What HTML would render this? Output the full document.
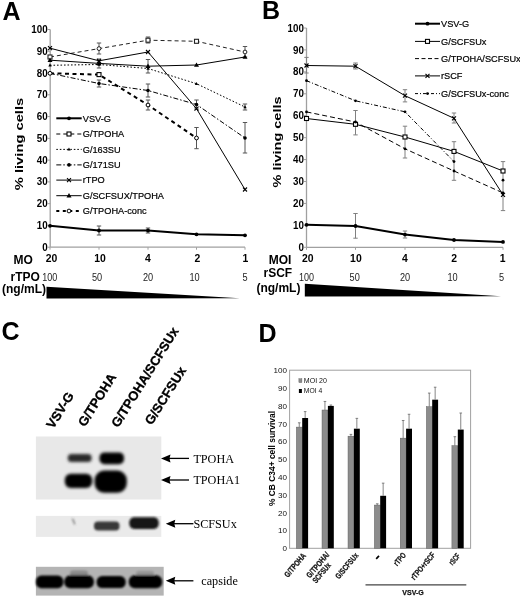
<!DOCTYPE html>
<html><head><meta charset="utf-8"><style>
html,body{margin:0;padding:0;background:#fff;}
body{width:520px;height:597px;overflow:hidden;}
svg{display:block;filter:blur(0.35px);}
</style></head><body>
<svg width="520" height="597" viewBox="0 0 520 597">
<rect width="520" height="597" fill="#fff"/>
<g font-family='"Liberation Sans", sans-serif' fill="#000">
<text x="2.5" y="19.6" font-size="25" font-weight="bold">A</text>
<text x="262" y="18.7" font-size="25" font-weight="bold">B</text>
<text x="1.5" y="340" font-size="25" font-weight="bold">C</text>
<text x="258.5" y="342.3" font-size="25" font-weight="bold">D</text>
<line x1="50.2" y1="29.49999999999997" x2="50.2" y2="247.2" stroke="#a0a0a0" stroke-width="1.3"/>
<line x1="50.2" y1="247.2" x2="245" y2="247.2" stroke="#a0a0a0" stroke-width="1.3"/>
<line x1="47.7" y1="247.2" x2="50.2" y2="247.2" stroke="#a0a0a0" stroke-width="1"/>
<text x="42.15" y="250.79999999999998" font-size="10" font-weight="bold" textLength="5.45" lengthAdjust="spacingAndGlyphs">0</text>
<line x1="47.7" y1="225.42999999999998" x2="50.2" y2="225.42999999999998" stroke="#a0a0a0" stroke-width="1"/>
<text x="36.7" y="229.02999999999997" font-size="10" font-weight="bold" textLength="10.9" lengthAdjust="spacingAndGlyphs">10</text>
<line x1="47.7" y1="203.66" x2="50.2" y2="203.66" stroke="#a0a0a0" stroke-width="1"/>
<text x="36.7" y="207.26" font-size="10" font-weight="bold" textLength="10.9" lengthAdjust="spacingAndGlyphs">20</text>
<line x1="47.7" y1="181.89" x2="50.2" y2="181.89" stroke="#a0a0a0" stroke-width="1"/>
<text x="36.7" y="185.48999999999998" font-size="10" font-weight="bold" textLength="10.9" lengthAdjust="spacingAndGlyphs">30</text>
<line x1="47.7" y1="160.12" x2="50.2" y2="160.12" stroke="#a0a0a0" stroke-width="1"/>
<text x="36.7" y="163.72" font-size="10" font-weight="bold" textLength="10.9" lengthAdjust="spacingAndGlyphs">40</text>
<line x1="47.7" y1="138.34999999999997" x2="50.2" y2="138.34999999999997" stroke="#a0a0a0" stroke-width="1"/>
<text x="36.7" y="141.94999999999996" font-size="10" font-weight="bold" textLength="10.9" lengthAdjust="spacingAndGlyphs">50</text>
<line x1="47.7" y1="116.57999999999998" x2="50.2" y2="116.57999999999998" stroke="#a0a0a0" stroke-width="1"/>
<text x="36.7" y="120.17999999999998" font-size="10" font-weight="bold" textLength="10.9" lengthAdjust="spacingAndGlyphs">60</text>
<line x1="47.7" y1="94.80999999999997" x2="50.2" y2="94.80999999999997" stroke="#a0a0a0" stroke-width="1"/>
<text x="36.7" y="98.40999999999997" font-size="10" font-weight="bold" textLength="10.9" lengthAdjust="spacingAndGlyphs">70</text>
<line x1="47.7" y1="73.03999999999999" x2="50.2" y2="73.03999999999999" stroke="#a0a0a0" stroke-width="1"/>
<text x="36.7" y="76.63999999999999" font-size="10" font-weight="bold" textLength="10.9" lengthAdjust="spacingAndGlyphs">80</text>
<line x1="47.7" y1="51.26999999999998" x2="50.2" y2="51.26999999999998" stroke="#a0a0a0" stroke-width="1"/>
<text x="36.7" y="54.86999999999998" font-size="10" font-weight="bold" textLength="10.9" lengthAdjust="spacingAndGlyphs">90</text>
<line x1="47.7" y1="29.49999999999997" x2="50.2" y2="29.49999999999997" stroke="#a0a0a0" stroke-width="1"/>
<text x="31.25" y="33.09999999999997" font-size="10" font-weight="bold" textLength="16.35" lengthAdjust="spacingAndGlyphs">100</text>
<line x1="50" y1="247.2" x2="50" y2="249.7" stroke="#a0a0a0" stroke-width="1"/>
<line x1="99" y1="247.2" x2="99" y2="249.7" stroke="#a0a0a0" stroke-width="1"/>
<line x1="148" y1="247.2" x2="148" y2="249.7" stroke="#a0a0a0" stroke-width="1"/>
<line x1="196.5" y1="247.2" x2="196.5" y2="249.7" stroke="#a0a0a0" stroke-width="1"/>
<line x1="245" y1="247.2" x2="245" y2="249.7" stroke="#a0a0a0" stroke-width="1"/>
<text transform="translate(22.5,144) rotate(-90)" text-anchor="middle" font-size="11.6" font-weight="bold" textLength="92.5" lengthAdjust="spacingAndGlyphs">% living cells</text>
<text transform="translate(281,142) rotate(-90)" text-anchor="middle" font-size="11.6" font-weight="bold" textLength="91" lengthAdjust="spacingAndGlyphs">% living cells</text>
<path d="M99,43V54M96.8,43H101.2M96.8,54H101.2" stroke="#555" stroke-width="1" fill="none"/><path d="M148,37V43M145.8,37H150.2M145.8,43H150.2" stroke="#555" stroke-width="1" fill="none"/><path d="M245,46.5V57M242.8,46.5H247.2M242.8,57H247.2" stroke="#555" stroke-width="1" fill="none"/><path d="M50,57.0L99,48.6L148,40.2L196.5,41.3L245,52.0" fill="none" stroke="#222" stroke-width="1" stroke-dasharray="4,3"/><rect x="48" y="55.0" width="4" height="4" fill="#fff" stroke="#222" stroke-width="1.1"/><circle cx="99" cy="48.6" r="1.9" fill="#fff" stroke="#222" stroke-width="1"/><rect x="146" y="38.2" width="4" height="4" fill="#fff" stroke="#222" stroke-width="1.1"/><rect x="194.5" y="39.3" width="4" height="4" fill="#fff" stroke="#222" stroke-width="1.1"/><circle cx="245" cy="52.0" r="1.9" fill="#fff" stroke="#222" stroke-width="1"/>
<path d="M99,59V68M96.8,59H101.2M96.8,68H101.2" stroke="#555" stroke-width="1" fill="none"/><path d="M148,59.5V73M145.8,59.5H150.2M145.8,73H150.2" stroke="#555" stroke-width="1" fill="none"/><path d="M50,60.2L99,63.4L148,66.2L196.5,65.0L245,57.0" fill="none" stroke="#000" stroke-width="1"/><path d="M50,57.6L52.5,62.0L47.5,62.0Z" fill="#000"/><path d="M99,60.8L101.5,65.2L96.5,65.2Z" fill="#000"/><path d="M148,63.6L150.5,68.0L145.5,68.0Z" fill="#000"/><path d="M196.5,62.4L199.0,66.8L194.0,66.8Z" fill="#000"/><path d="M245,54.4L247.5,58.8L242.5,58.8Z" fill="#000"/>
<path d="M245,104V110M242.8,104H247.2M242.8,110H247.2" stroke="#555" stroke-width="1" fill="none"/><path d="M50,65.3L99,64.5L148,68.5L196.5,83.7L245,107.0" fill="none" stroke="#000" stroke-width="1" stroke-dasharray="1.6,1.9"/><path d="M50,63.5L51.7,66.5L48.3,66.5Z" fill="#000"/><path d="M99,62.7L100.7,65.7L97.3,65.7Z" fill="#000"/><path d="M148,66.7L149.7,69.7L146.3,69.7Z" fill="#000"/><path d="M196.5,81.9L198.2,84.9L194.8,84.9Z" fill="#000"/><path d="M245,105.2L246.7,108.2L243.3,108.2Z" fill="#000"/>
<path d="M99,80V87M96.8,80H101.2M96.8,87H101.2" stroke="#555" stroke-width="1" fill="none"/><path d="M148,84V97M145.8,84H150.2M145.8,97H150.2" stroke="#555" stroke-width="1" fill="none"/><path d="M196.5,100V109M194.3,100H198.7M194.3,109H198.7" stroke="#555" stroke-width="1" fill="none"/><path d="M245,122.5V153M242.8,122.5H247.2M242.8,153H247.2" stroke="#555" stroke-width="1" fill="none"/><path d="M50,73.3L99,83.5L148,90.5L196.5,104.5L245,138.0" fill="none" stroke="#000" stroke-width="1" stroke-dasharray="5,2,1.5,2"/><circle cx="50" cy="73.3" r="1.8" fill="#000"/><circle cx="99" cy="83.5" r="1.8" fill="#000"/><circle cx="148" cy="90.5" r="1.8" fill="#000"/><circle cx="196.5" cy="104.5" r="1.8" fill="#000"/><circle cx="245" cy="138.0" r="1.8" fill="#000"/>
<path d="M50,48.2L99,60.8L148,52.0L196.5,108.7L245,189.5" fill="none" stroke="#000" stroke-width="1"/><path d="M48,46.2L52,50.2M52,46.2L48,50.2" stroke="#000" stroke-width="1.1"/><path d="M97,58.8L101,62.8M101,58.8L97,62.8" stroke="#000" stroke-width="1.1"/><path d="M146,50.0L150,54.0M150,50.0L146,54.0" stroke="#000" stroke-width="1.1"/><path d="M194.5,106.7L198.5,110.7M198.5,106.7L194.5,110.7" stroke="#000" stroke-width="1.1"/><path d="M243,187.5L247,191.5M247,187.5L243,191.5" stroke="#000" stroke-width="1.1"/>
<path d="M148,100V110M145.8,100H150.2M145.8,110H150.2" stroke="#555" stroke-width="1" fill="none"/><path d="M196.5,127.5V148.7M194.3,127.5H198.7M194.3,148.7H198.7" stroke="#555" stroke-width="1" fill="none"/><path d="M50,73.3L99,74.6L148,105.0L196.5,138.0" fill="none" stroke="#000" stroke-width="2" stroke-dasharray="4,3.5"/><circle cx="50" cy="73.3" r="1.9" fill="#fff" stroke="#000" stroke-width="1"/><rect x="97" y="72.6" width="4" height="4" fill="#fff" stroke="#000" stroke-width="1.1"/><circle cx="148" cy="105.0" r="1.9" fill="#fff" stroke="#000" stroke-width="1"/><circle cx="196.5" cy="138.0" r="1.9" fill="#fff" stroke="#000" stroke-width="1"/>
<path d="M99,226V235M96.8,226H101.2M96.8,235H101.2" stroke="#555" stroke-width="1" fill="none"/><path d="M148,228V233M145.8,228H150.2M145.8,233H150.2" stroke="#555" stroke-width="1" fill="none"/><path d="M50,225.8L99,230.5L148,230.5L196.5,234.3L245,235.3" fill="none" stroke="#000" stroke-width="2"/><circle cx="50" cy="225.8" r="1.9" fill="#000"/><circle cx="99" cy="230.5" r="1.9" fill="#000"/><circle cx="148" cy="230.5" r="1.9" fill="#000"/><circle cx="196.5" cy="234.3" r="1.9" fill="#000"/><circle cx="245" cy="235.3" r="1.9" fill="#000"/>
<line x1="56.3" y1="118.3" x2="81.7" y2="118.3" stroke="#000" stroke-width="2"/>
<circle cx="69" cy="118.3" r="1.9" fill="#000"/>
<text x="82.8" y="121.6" font-size="9.2" stroke="#000" stroke-width="0.2">VSV-G</text>
<line x1="56.3" y1="134.0" x2="81.7" y2="134.0" stroke="#000" stroke-width="1" stroke-dasharray="4,3"/>
<rect x="67" y="132.0" width="4" height="4" fill="#fff" stroke="#000" stroke-width="1.1"/>
<text x="82.8" y="137.3" font-size="9.2" stroke="#000" stroke-width="0.2">G/TPOHA</text>
<line x1="56.3" y1="149.4" x2="81.7" y2="149.4" stroke="#000" stroke-width="1" stroke-dasharray="1.6,1.9"/>
<path d="M69,147.6L70.7,150.6L67.3,150.6Z" fill="#000"/>
<text x="82.8" y="152.70000000000002" font-size="9.2" stroke="#000" stroke-width="0.2">G/163SU</text>
<line x1="56.3" y1="164.9" x2="81.7" y2="164.9" stroke="#000" stroke-width="1" stroke-dasharray="5,2,1.5,2"/>
<circle cx="69" cy="164.9" r="1.8" fill="#000"/>
<text x="82.8" y="168.20000000000002" font-size="9.2" stroke="#000" stroke-width="0.2">G/171SU</text>
<line x1="56.3" y1="180.1" x2="81.7" y2="180.1" stroke="#000" stroke-width="1"/>
<path d="M67,178.1L71,182.1M71,178.1L67,182.1" stroke="#000" stroke-width="1.1"/>
<text x="82.8" y="183.4" font-size="9.2" stroke="#000" stroke-width="0.2">rTPO</text>
<line x1="56.3" y1="195.7" x2="81.7" y2="195.7" stroke="#000" stroke-width="1"/>
<path d="M69,193.1L71.5,197.5L66.5,197.5Z" fill="#000"/>
<text x="82.8" y="199.0" font-size="9.2" stroke="#000" stroke-width="0.2">G/SCFSUX/TPOHA</text>
<line x1="56.3" y1="211.0" x2="81.7" y2="211.0" stroke="#000" stroke-width="2" stroke-dasharray="3,3.5"/>
<circle cx="69" cy="211.0" r="1.9" fill="#fff" stroke="#000" stroke-width="1"/>
<text x="82.8" y="214.3" font-size="9.2" stroke="#000" stroke-width="0.2">G/TPOHA-conc</text>
<text x="13.5" y="264.3" font-size="12" font-weight="bold">MO</text>
<text x="51.5" y="262.2" text-anchor="middle" font-size="10.4" font-weight="bold">20</text>
<text x="100.1" y="262.2" text-anchor="middle" font-size="10.4" font-weight="bold">10</text>
<text x="148" y="262.2" text-anchor="middle" font-size="10.4" font-weight="bold">4</text>
<text x="197.3" y="262.2" text-anchor="middle" font-size="10.4" font-weight="bold">2</text>
<text x="245.4" y="262.2" text-anchor="middle" font-size="10.4" font-weight="bold">1</text>
<text x="10.5" y="280.8" font-size="12" font-weight="bold">rTPO</text>
<text x="42.2" y="280.8" font-size="10" fill="#222" textLength="15" lengthAdjust="spacingAndGlyphs">100</text>
<text x="91.9" y="280.8" font-size="10" fill="#222" textLength="10.2" lengthAdjust="spacingAndGlyphs">50</text>
<text x="142.9" y="280.8" font-size="10" fill="#222" textLength="10.2" lengthAdjust="spacingAndGlyphs">20</text>
<text x="189.4" y="280.8" font-size="10" fill="#222" textLength="10.2" lengthAdjust="spacingAndGlyphs">10</text>
<text x="242.45" y="280.8" font-size="10" fill="#222" textLength="5.1" lengthAdjust="spacingAndGlyphs">5</text>
<text x="2" y="293.3" font-size="12" font-weight="bold">(ng/mL)</text>
<path d="M46.5,286.7L239.7,298.2L46.5,298.5Z" fill="#000"/>
<line x1="306.5" y1="28.0" x2="306.5" y2="247.3" stroke="#a0a0a0" stroke-width="1.3"/>
<line x1="306.5" y1="247.3" x2="503" y2="247.3" stroke="#a0a0a0" stroke-width="1.3"/>
<line x1="304.0" y1="247.3" x2="306.5" y2="247.3" stroke="#a0a0a0" stroke-width="1"/>
<text x="298.45" y="250.9" font-size="10" font-weight="bold" textLength="5.45" lengthAdjust="spacingAndGlyphs">0</text>
<line x1="304.0" y1="225.37" x2="306.5" y2="225.37" stroke="#a0a0a0" stroke-width="1"/>
<text x="293.0" y="228.97" font-size="10" font-weight="bold" textLength="10.9" lengthAdjust="spacingAndGlyphs">10</text>
<line x1="304.0" y1="203.44" x2="306.5" y2="203.44" stroke="#a0a0a0" stroke-width="1"/>
<text x="293.0" y="207.04" font-size="10" font-weight="bold" textLength="10.9" lengthAdjust="spacingAndGlyphs">20</text>
<line x1="304.0" y1="181.51" x2="306.5" y2="181.51" stroke="#a0a0a0" stroke-width="1"/>
<text x="293.0" y="185.10999999999999" font-size="10" font-weight="bold" textLength="10.9" lengthAdjust="spacingAndGlyphs">30</text>
<line x1="304.0" y1="159.58" x2="306.5" y2="159.58" stroke="#a0a0a0" stroke-width="1"/>
<text x="293.0" y="163.18" font-size="10" font-weight="bold" textLength="10.9" lengthAdjust="spacingAndGlyphs">40</text>
<line x1="304.0" y1="137.65" x2="306.5" y2="137.65" stroke="#a0a0a0" stroke-width="1"/>
<text x="293.0" y="141.25" font-size="10" font-weight="bold" textLength="10.9" lengthAdjust="spacingAndGlyphs">50</text>
<line x1="304.0" y1="115.72" x2="306.5" y2="115.72" stroke="#a0a0a0" stroke-width="1"/>
<text x="293.0" y="119.32" font-size="10" font-weight="bold" textLength="10.9" lengthAdjust="spacingAndGlyphs">60</text>
<line x1="304.0" y1="93.79000000000002" x2="306.5" y2="93.79000000000002" stroke="#a0a0a0" stroke-width="1"/>
<text x="293.0" y="97.39000000000001" font-size="10" font-weight="bold" textLength="10.9" lengthAdjust="spacingAndGlyphs">70</text>
<line x1="304.0" y1="71.86000000000001" x2="306.5" y2="71.86000000000001" stroke="#a0a0a0" stroke-width="1"/>
<text x="293.0" y="75.46000000000001" font-size="10" font-weight="bold" textLength="10.9" lengthAdjust="spacingAndGlyphs">80</text>
<line x1="304.0" y1="49.93000000000001" x2="306.5" y2="49.93000000000001" stroke="#a0a0a0" stroke-width="1"/>
<text x="293.0" y="53.53000000000001" font-size="10" font-weight="bold" textLength="10.9" lengthAdjust="spacingAndGlyphs">90</text>
<line x1="304.0" y1="28.0" x2="306.5" y2="28.0" stroke="#a0a0a0" stroke-width="1"/>
<text x="287.54999999999995" y="31.6" font-size="10" font-weight="bold" textLength="16.35" lengthAdjust="spacingAndGlyphs">100</text>
<line x1="306.5" y1="247.3" x2="306.5" y2="249.8" stroke="#a0a0a0" stroke-width="1"/>
<line x1="355.5" y1="247.3" x2="355.5" y2="249.8" stroke="#a0a0a0" stroke-width="1"/>
<line x1="405" y1="247.3" x2="405" y2="249.8" stroke="#a0a0a0" stroke-width="1"/>
<line x1="454" y1="247.3" x2="454" y2="249.8" stroke="#a0a0a0" stroke-width="1"/>
<line x1="503" y1="247.3" x2="503" y2="249.8" stroke="#a0a0a0" stroke-width="1"/>
<path d="M355.5,110.5V134.9M353.3,110.5H357.7M353.3,134.9H357.7" stroke="#808080" stroke-width="1" fill="none"/><path d="M405,126.2V158M402.8,126.2H407.2M402.8,158H407.2" stroke="#808080" stroke-width="1" fill="none"/><path d="M454,141.7V180.3M451.8,141.7H456.2M451.8,180.3H456.2" stroke="#808080" stroke-width="1" fill="none"/><path d="M503,161.6V210.6M500.8,161.6H505.2M500.8,210.6H505.2" stroke="#808080" stroke-width="1" fill="none"/><path d="M306.5,118.5L355.5,124.3L405,137.0L454,151.4L503,171.0" fill="none" stroke="#000" stroke-width="1"/><rect x="304.5" y="116.5" width="4" height="4" fill="#fff" stroke="#000" stroke-width="1.1"/><rect x="353.5" y="122.3" width="4" height="4" fill="#fff" stroke="#000" stroke-width="1.1"/><rect x="403" y="135.0" width="4" height="4" fill="#fff" stroke="#000" stroke-width="1.1"/><rect x="452" y="149.4" width="4" height="4" fill="#fff" stroke="#000" stroke-width="1.1"/><rect x="501" y="169.0" width="4" height="4" fill="#fff" stroke="#000" stroke-width="1.1"/>
<path d="M306.5,111.9L355.5,122.0L405,148.8L454,171.0L503,192.9" fill="none" stroke="#000" stroke-width="1" stroke-dasharray="5,3"/><circle cx="306.5" cy="111.9" r="1.4" fill="#000"/><circle cx="355.5" cy="122.0" r="1.4" fill="#000"/><circle cx="405" cy="148.8" r="1.4" fill="#000"/><circle cx="454" cy="171.0" r="1.4" fill="#000"/><circle cx="503" cy="192.9" r="1.4" fill="#000"/>
<path d="M306.5,57.4V73M304.3,57.4H308.7M304.3,73H308.7" stroke="#808080" stroke-width="1" fill="none"/><path d="M355.5,63V69M353.3,63H357.7M353.3,69H357.7" stroke="#808080" stroke-width="1" fill="none"/><path d="M405,89.7V101.9M402.8,89.7H407.2M402.8,101.9H407.2" stroke="#808080" stroke-width="1" fill="none"/><path d="M454,113V123M451.8,113H456.2M451.8,123H456.2" stroke="#808080" stroke-width="1" fill="none"/><path d="M306.5,65.5L355.5,66.2L405,95.7L454,118.3L503,194.8" fill="none" stroke="#000" stroke-width="1"/><path d="M304.5,63.5L308.5,67.5M308.5,63.5L304.5,67.5" stroke="#000" stroke-width="1.1"/><path d="M353.5,64.2L357.5,68.2M357.5,64.2L353.5,68.2" stroke="#000" stroke-width="1.1"/><path d="M403,93.7L407,97.7M407,93.7L403,97.7" stroke="#000" stroke-width="1.1"/><path d="M452,116.3L456,120.3M456,116.3L452,120.3" stroke="#000" stroke-width="1.1"/><path d="M501,192.8L505,196.8M505,192.8L501,196.8" stroke="#000" stroke-width="1.1"/>
<path d="M306.5,80.7L355.5,100.8L405,111.8L454,161.6" fill="none" stroke="#000" stroke-width="1" stroke-dasharray="4,2,1,2"/><circle cx="306.5" cy="80.7" r="1.4" fill="#000"/><circle cx="355.5" cy="100.8" r="1.4" fill="#000"/><circle cx="405" cy="111.8" r="1.4" fill="#000"/><circle cx="454" cy="161.6" r="1.4" fill="#000"/>
<path d="M355.5,213.5V238.2M353.3,213.5H357.7M353.3,238.2H357.7" stroke="#808080" stroke-width="1" fill="none"/><path d="M405,231V238M402.8,231H407.2M402.8,238H407.2" stroke="#808080" stroke-width="1" fill="none"/><path d="M306.5,224.8L355.5,226.0L405,234.6L454,240.0L503,241.9" fill="none" stroke="#000" stroke-width="2"/><circle cx="306.5" cy="224.8" r="1.9" fill="#000"/><circle cx="355.5" cy="226.0" r="1.9" fill="#000"/><circle cx="405" cy="234.6" r="1.9" fill="#000"/><circle cx="454" cy="240.0" r="1.9" fill="#000"/><circle cx="503" cy="241.9" r="1.9" fill="#000"/>
<circle cx="503" cy="180.2" r="1.4" fill="#000"/>
<line x1="415" y1="23.7" x2="440" y2="23.7" stroke="#000" stroke-width="2"/>
<circle cx="427.5" cy="23.7" r="1.9" fill="#000"/>
<text x="441" y="27.0" font-size="9.2" stroke="#000" stroke-width="0.2">VSV-G</text>
<line x1="415" y1="41.4" x2="440" y2="41.4" stroke="#000" stroke-width="1"/>
<rect x="425.5" y="39.4" width="4" height="4" fill="#fff" stroke="#000" stroke-width="1.1"/>
<text x="441" y="44.699999999999996" font-size="9.2" stroke="#000" stroke-width="0.2">G/SCFSUx</text>
<line x1="415" y1="58.6" x2="440" y2="58.6" stroke="#000" stroke-width="1" stroke-dasharray="4,2.5"/>
<text x="441" y="61.9" font-size="9.2" stroke="#000" stroke-width="0.2">G/TPOHA/SCFSUx</text>
<line x1="415" y1="75.9" x2="440" y2="75.9" stroke="#000" stroke-width="1"/>
<path d="M425.5,73.9L429.5,77.9M429.5,73.9L425.5,77.9" stroke="#000" stroke-width="1.1"/>
<text x="441" y="79.2" font-size="9.2" stroke="#000" stroke-width="0.2">rSCF</text>
<line x1="415" y1="93.6" x2="440" y2="93.6" stroke="#000" stroke-width="1" stroke-dasharray="3,2,1,2"/>
<circle cx="427.5" cy="93.6" r="1.4" fill="#000"/>
<text x="441" y="96.89999999999999" font-size="9.2" stroke="#000" stroke-width="0.2">G/SCFSUx-conc</text>
<text x="268.7" y="263.9" font-size="12" font-weight="bold">MOI</text>
<text x="307.7" y="262.2" text-anchor="middle" font-size="10.4" font-weight="bold">20</text>
<text x="355.9" y="262.2" text-anchor="middle" font-size="10.4" font-weight="bold">10</text>
<text x="405" y="262.2" text-anchor="middle" font-size="10.4" font-weight="bold">4</text>
<text x="454.2" y="262.2" text-anchor="middle" font-size="10.4" font-weight="bold">2</text>
<text x="502.7" y="262.2" text-anchor="middle" font-size="10.4" font-weight="bold">1</text>
<text x="263.5" y="276.7" font-size="12" font-weight="bold">rSCF</text>
<text x="299.0" y="280.8" font-size="10" fill="#222" textLength="15" lengthAdjust="spacingAndGlyphs">100</text>
<text x="349.59999999999997" y="280.8" font-size="10" fill="#222" textLength="10.2" lengthAdjust="spacingAndGlyphs">50</text>
<text x="399.9" y="280.8" font-size="10" fill="#222" textLength="10.2" lengthAdjust="spacingAndGlyphs">20</text>
<text x="447.4" y="280.8" font-size="10" fill="#222" textLength="10.2" lengthAdjust="spacingAndGlyphs">10</text>
<text x="499.05" y="280.8" font-size="10" fill="#222" textLength="5.1" lengthAdjust="spacingAndGlyphs">5</text>
<text x="256.4" y="291.8" font-size="12" font-weight="bold">(ng/mL)</text>
<path d="M304.8,283.8L501,296.2L304.8,296.6Z" fill="#000"/>
</g>
<defs><filter id="b1" x="-30%" y="-60%" width="160%" height="220%"><feGaussianBlur stdDeviation="1.6"/></filter><filter id="b2" x="-30%" y="-60%" width="160%" height="220%"><feGaussianBlur stdDeviation="0.9"/></filter></defs>
<g font-family='"Liberation Sans", sans-serif' font-weight="bold" font-size="13.1" stroke="#000" stroke-width="0.3">
<text transform="translate(53.3,429.6) rotate(-58)">VSV-G</text>
<text transform="translate(85.05,427.6) rotate(-58)">G/TPOHA</text>
<text transform="translate(118.3,428.35) rotate(-58)">G/TPOHA/SCFSUx</text>
<text transform="translate(151.8,425.85) rotate(-58)">G/SCFSUx</text>
</g>
<rect x="35.9" y="436.5" width="125.4" height="63" fill="#e8e8e8"/>
<g filter="url(#b1)">
<rect x="67.8" y="453.9" width="23.8" height="8.2" rx="3.5" fill="#2a2a2a"/>
<rect x="99.5" y="452.4" width="24.5" height="11.8" rx="5" fill="#050505"/>
<rect x="64.8" y="473.8" width="27.4" height="14.2" rx="6" fill="#030303"/>
<rect x="94.6" y="470.6" width="32.2" height="22.2" rx="9.5" fill="#000"/>
</g>
<rect x="35.9" y="515.9" width="125.4" height="21" fill="#eaeaea"/>
<g filter="url(#b2)">
<rect x="94" y="521.6" width="25.5" height="8.9" rx="4" fill="#383838"/>
<rect x="129.3" y="517.2" width="29.4" height="11.8" rx="5" fill="#151515"/>
<path d="M72.6,518.6L74.8,524.4" stroke="#444" stroke-width="1"/>
</g>
<rect x="35.9" y="566.8" width="127.8" height="28.8" fill="#b4b4b4"/>
<g filter="url(#b2)">
<rect x="70" y="570.5" width="18" height="6" rx="3" fill="#8a8a8a"/>
<rect x="136" y="571" width="18" height="5" rx="2.5" fill="#959595"/>
<rect x="35.9" y="575.6" width="27.4" height="12.6" rx="5.5" fill="#060606"/>
<rect x="64.3" y="575.3" width="29.6" height="13" rx="6" fill="#060606"/>
<rect x="96.6" y="576.1" width="29.1" height="12" rx="5.5" fill="#060606"/>
<rect x="128.8" y="575.3" width="33.4" height="13" rx="6" fill="#060606"/>
</g>
<path d="M161,458.4L170.5,454.4L169.5,458.4L170.5,462.4Z" fill="#000"/>
<line x1="169" y1="458.4" x2="189" y2="458.4" stroke="#000" stroke-width="1.3"/>
<text x="193.4" y="462.59999999999997" font-family='"Liberation Serif", serif' font-size="12.2">TPOHA</text>
<path d="M161,480L170.5,476L169.5,480L170.5,484Z" fill="#000"/>
<line x1="169" y1="480" x2="189" y2="480" stroke="#000" stroke-width="1.3"/>
<text x="193.4" y="484.2" font-family='"Liberation Serif", serif' font-size="12.2">TPOHA1</text>
<path d="M165.8,523.7L175.3,519.7L174.3,523.7L175.3,527.7Z" fill="#000"/>
<line x1="173.8" y1="523.7" x2="193.4" y2="523.7" stroke="#000" stroke-width="1.3"/>
<text x="193.4" y="527.9000000000001" font-family='"Liberation Serif", serif' font-size="12.2">SCFSUx</text>
<path d="M165.8,580.8L175.3,576.8L174.3,580.8L175.3,584.8Z" fill="#000"/>
<line x1="173.8" y1="580.8" x2="193.4" y2="580.8" stroke="#000" stroke-width="1.3"/>
<text x="201.3" y="585.0" font-family='"Liberation Serif", serif' font-size="12.2">capside</text>
<rect x="289.6" y="370.2" width="181" height="178.1" fill="none" stroke="#a0a0a0" stroke-width="1"/>
<g font-family='"Liberation Sans", sans-serif' font-size="8.1" fill="#111">
<text x="282.5" y="551.0999999999999" textLength="4.5" lengthAdjust="spacingAndGlyphs">0</text>
<text x="278.0" y="533.3" textLength="9.0" lengthAdjust="spacingAndGlyphs">10</text>
<text x="278.0" y="515.4999999999999" textLength="9.0" lengthAdjust="spacingAndGlyphs">20</text>
<text x="278.0" y="497.7" textLength="9.0" lengthAdjust="spacingAndGlyphs">30</text>
<text x="278.0" y="479.9" textLength="9.0" lengthAdjust="spacingAndGlyphs">40</text>
<text x="278.0" y="462.09999999999997" textLength="9.0" lengthAdjust="spacingAndGlyphs">50</text>
<text x="278.0" y="444.29999999999995" textLength="9.0" lengthAdjust="spacingAndGlyphs">60</text>
<text x="278.0" y="426.49999999999994" textLength="9.0" lengthAdjust="spacingAndGlyphs">70</text>
<text x="278.0" y="408.7" textLength="9.0" lengthAdjust="spacingAndGlyphs">80</text>
<text x="278.0" y="390.9" textLength="9.0" lengthAdjust="spacingAndGlyphs">90</text>
<text x="273.5" y="373.09999999999997" textLength="13.5" lengthAdjust="spacingAndGlyphs">100</text>
</g>
<text transform="translate(275.2,458.5) rotate(-90)" text-anchor="middle" font-family='"Liberation Sans", sans-serif' font-size="8.6" font-weight="bold" textLength="95" lengthAdjust="spacingAndGlyphs">% CB C34+ cell survival</text>
<rect x="296.3" y="427.082" width="5.9" height="121.21799999999996" fill="#8c8c8c" stroke="#555" stroke-width="0.4"/>
<rect x="302.2" y="418.0039999999999" width="5.9" height="130.29600000000005" fill="#000"/>
<path d="M299.25,427.082V422.80999999999995M297.95,422.80999999999995H300.55" stroke="#666" stroke-width="0.8"/>
<path d="M305.15000000000003,418.0039999999999V411.59599999999995M303.85,411.59599999999995H306.45000000000005" stroke="#666" stroke-width="0.8"/>
<rect x="322" y="409.9939999999999" width="5.9" height="138.30600000000004" fill="#8c8c8c" stroke="#555" stroke-width="0.4"/>
<rect x="327.9" y="405.9" width="5.9" height="142.39999999999998" fill="#000"/>
<path d="M324.95,409.9939999999999V401.44999999999993M323.65,401.44999999999993H326.25" stroke="#666" stroke-width="0.8"/>
<path d="M330.85,405.9V405.01M329.55,405.01H332.15000000000003" stroke="#666" stroke-width="0.8"/>
<rect x="348" y="436.15999999999997" width="5.9" height="112.13999999999999" fill="#8c8c8c" stroke="#555" stroke-width="0.4"/>
<rect x="353.9" y="428.68399999999997" width="5.9" height="119.61599999999999" fill="#000"/>
<path d="M350.95,436.15999999999997V434.37999999999994M349.65,434.37999999999994H352.25" stroke="#666" stroke-width="0.8"/>
<path d="M356.85,428.68399999999997V418.35999999999996M355.55,418.35999999999996H358.15000000000003" stroke="#666" stroke-width="0.8"/>
<rect x="374.3" y="505.04599999999994" width="5.9" height="43.25400000000002" fill="#8c8c8c" stroke="#555" stroke-width="0.4"/>
<rect x="380.2" y="495.78999999999996" width="5.9" height="52.50999999999999" fill="#000"/>
<path d="M377.25,505.04599999999994V503.79999999999995M375.95,503.79999999999995H378.55" stroke="#666" stroke-width="0.8"/>
<path d="M383.15000000000003,495.78999999999996V483.15199999999993M381.85,483.15199999999993H384.45000000000005" stroke="#666" stroke-width="0.8"/>
<rect x="400.2" y="438.11799999999994" width="5.9" height="110.18200000000002" fill="#8c8c8c" stroke="#555" stroke-width="0.4"/>
<rect x="406.09999999999997" y="428.68399999999997" width="5.9" height="119.61599999999999" fill="#000"/>
<path d="M403.15,438.11799999999994V420.496M401.84999999999997,420.496H404.45" stroke="#666" stroke-width="0.8"/>
<path d="M409.05,428.68399999999997V414.26599999999996M407.75,414.26599999999996H410.35" stroke="#666" stroke-width="0.8"/>
<rect x="426.3" y="406.61199999999997" width="5.9" height="141.688" fill="#8c8c8c" stroke="#555" stroke-width="0.4"/>
<rect x="432.2" y="399.66999999999996" width="5.9" height="148.63" fill="#000"/>
<path d="M429.25,406.61199999999997V393.08399999999995M427.95,393.08399999999995H430.55" stroke="#666" stroke-width="0.8"/>
<path d="M435.15000000000003,399.66999999999996V387.2099999999999M433.85,387.2099999999999H436.45000000000005" stroke="#666" stroke-width="0.8"/>
<rect x="451.9" y="445.59399999999994" width="5.9" height="102.70600000000002" fill="#8c8c8c" stroke="#555" stroke-width="0.4"/>
<rect x="457.79999999999995" y="429.57399999999996" width="5.9" height="118.726" fill="#000"/>
<path d="M454.84999999999997,445.59399999999994V436.69399999999996M453.54999999999995,436.69399999999996H456.15" stroke="#666" stroke-width="0.8"/>
<path d="M460.75,429.57399999999996V413.02M459.45,413.02H462.05" stroke="#666" stroke-width="0.8"/>
<rect x="298.9" y="378.8" width="3" height="3.8" fill="#8c8c8c" stroke="#555" stroke-width="0.4"/>
<rect x="298.9" y="389" width="3" height="4" fill="#000"/>
<g font-family='"Liberation Sans", sans-serif' font-size="7" fill="#111">
<text x="303.8" y="383" textLength="23.1" lengthAdjust="spacingAndGlyphs">MOI 20</text>
<text x="303.8" y="393.3" textLength="18.5" lengthAdjust="spacingAndGlyphs">MOI 4</text>
</g>
<g font-family='"Liberation Sans", sans-serif' font-size="8.2" font-weight="bold" fill="#111" stroke="#111" stroke-width="0.25">
<text transform="translate(288.0,577.9) rotate(-50)" textLength="28.7" lengthAdjust="spacingAndGlyphs">G/TPOHA</text>
<text transform="translate(310.1,578.5) rotate(-50)" textLength="30.7" lengthAdjust="spacingAndGlyphs">G/TPOHA/</text>
<text transform="translate(316.2,583.7) rotate(-50)" textLength="23.7" lengthAdjust="spacingAndGlyphs">SCFSUx</text>
<text transform="translate(339.1,579.4) rotate(-50)" textLength="31" lengthAdjust="spacingAndGlyphs">G/SCFSUx</text>
<text transform="translate(397.2,566.5) rotate(-50)" textLength="14.3" lengthAdjust="spacingAndGlyphs">rTPO</text>
<text transform="translate(414.5,580.5) rotate(-50)" textLength="33" lengthAdjust="spacingAndGlyphs">rTPO+rSCF</text>
<text transform="translate(452.6,565.8) rotate(-50)" textLength="12.5" lengthAdjust="spacingAndGlyphs">rSCF</text>
<path d="M376.2,558.8L379,555.8" stroke="#000" stroke-width="1.7"/>
<text x="402.3" y="595" font-size="8" textLength="21.5" lengthAdjust="spacingAndGlyphs">VSV-G</text>
</g>
<line x1="365.5" y1="584.8" x2="466.3" y2="584.8" stroke="#444" stroke-width="1.2"/>
</svg>
</body></html>
